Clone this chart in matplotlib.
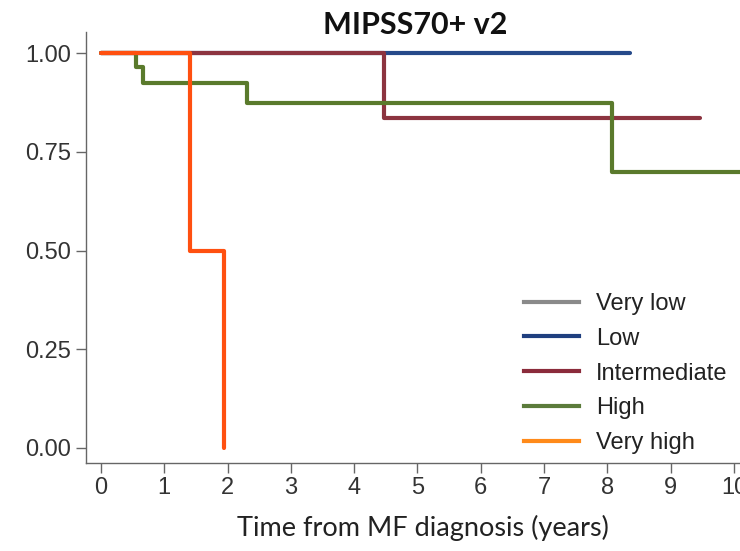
import matplotlib.pyplot as plt
from matplotlib.lines import Line2D

plt.rcParams["font.family"] = ["Liberation Sans", "DejaVu Sans"]

# Kaplan-Meier style curves, MIPSS70+ v2 risk groups
grupos = ["Very low", "Low", "Intermediate", "High", "Very high"]
colores_linea = ["#8a8a8a", "#264a8a", "#8c3440", "#5a7a2c", "#ff5010"]
colores_leyenda = ["#8a8a8a", "#1f3f7f", "#8b2b3b", "#5b7b3b", "#ff8a1a"]

t_low = [0, 8.36]
s_low = [1.0, 1.0]

t_inter = [0, 4.47, 9.46]
s_inter = [1.0, 0.835, 0.835]

t_high = [0, 0.56, 0.66, 2.30, 8.08, 10.6]
s_high = [1.0, 0.966, 0.924, 0.873, 0.699, 0.699]

t_vhigh = [0, 1.40, 1.95]
s_vhigh = [1.0, 0.5, 0.0]

x_ticks = list(range(0, 11))
y_ticks = [0.0, 0.25, 0.5, 0.75, 1.0]

fig = plt.figure(figsize=(7.4, 5.51), dpi=100)
ax = fig.add_axes([0.1162, 0.1602, 0.927, 0.7823])

lw = 3.0
ax.step(t_low, s_low, where="post", color=colores_linea[1], lw=lw, solid_capstyle="round", zorder=2)
ax.step(t_inter, s_inter, where="post", color=colores_linea[2], lw=lw, solid_capstyle="round", zorder=3)
ax.step(t_high, s_high, where="post", color=colores_linea[3], lw=lw, solid_capstyle="round", zorder=4)
ax.step(t_vhigh, s_vhigh, where="post", color=colores_linea[4], lw=lw, solid_capstyle="round", zorder=5)

ax.set_xlim(-0.237, 10.6)
ax.set_ylim(-0.038, 1.055)
ax.set_xticks(x_ticks)
ax.set_xticklabels([str(v) for v in x_ticks])
ax.set_yticks(y_ticks)
ax.set_yticklabels([f"{v:.2f}" for v in y_ticks])

for lado in ["top", "right"]:
    ax.spines[lado].set_visible(False)
for lado in ["left", "bottom"]:
    ax.spines[lado].set_color("#666666")
    ax.spines[lado].set_linewidth(1.0)

ax.tick_params(axis="both", direction="out", length=7, width=1.0, color="#666666",
               labelsize=17, labelcolor="#333333")

fig.text(0.561, 0.955, "MIPSS70+ v2", ha="center", va="center",
         fontsize=22, fontweight="bold", family="Lato", color="#111111")
fig.text(0.571, 0.042, "Time from MF diagnosis (years)", ha="center", va="center",
         fontsize=19.5, family="Lato", color="#222222")

handles = [Line2D([0], [0], color=c, lw=lw) for c in colores_leyenda]
leg = ax.legend(handles, grupos, loc="upper left", bbox_to_anchor=(524 / 740, 1 - 293 / 551),
                bbox_transform=fig.transFigure, frameon=False, borderpad=0, borderaxespad=0,
                handlelength=2.35, handletextpad=0.7, labelspacing=0.54,
                prop={"family": "Liberation Sans", "size": 17})
for txt in leg.get_texts():
    txt.set_color("#222222")

fig.savefig("out.png", dpi=100)
